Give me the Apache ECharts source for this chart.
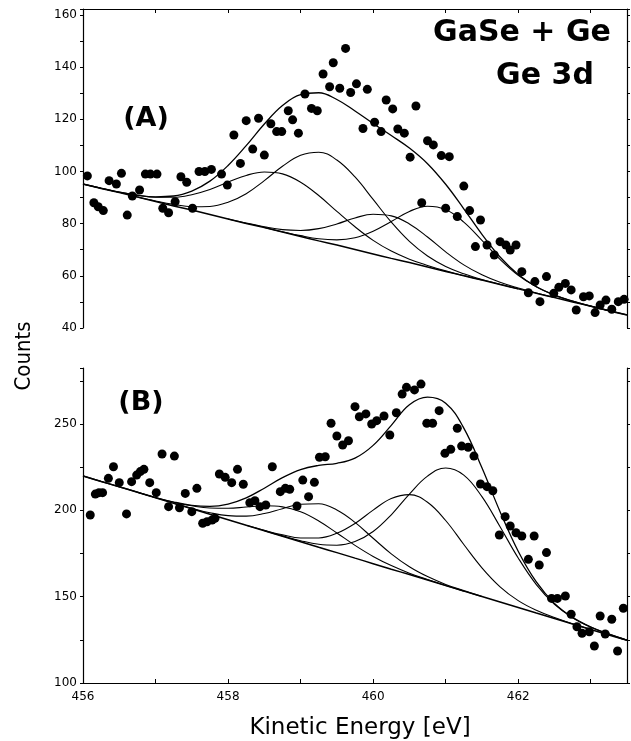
<!DOCTYPE html>
<html><head><meta charset="utf-8">
<script src="https://cdn.jsdelivr.net/npm/echarts/dist/echarts.min.js"></script>
<style>html,body{margin:0;padding:0;background:#fff}#c{width:631px;height:741px}</style>
</head><body><div id="c"></div><script>
// ---- data ----
const energyGrid = [456.00,456.25,456.50,456.75,457.00,457.25,457.50,457.75,458.00,458.25,458.50,458.75,459.00,459.25,459.50,459.75,460.00,460.25,460.50,460.75,461.00,461.25,461.50,461.75,462.00,462.25,462.50,462.75,463.00,463.25,463.50];

// Panel A (fit curves)
const bgA  = [95.2,93.5,91.9,90.2,88.5,86.8,85.2,83.5,81.8,80.1,78.5,76.8,75.1,73.4,71.8,70.1,68.4,66.7,65.1,63.4,61.7,60.0,58.4,56.7,55.0,53.3,51.7,50.0,48.3,46.6,45.0];
const fitA1 = [95.2,93.6,92.1,90.9,90.1,90.1,91.1,93.1,95.9,98.5,99.8,99.1,95.9,90.8,84.7,78.8,73.6,69.5,66.4,64.0,61.9,60.1,58.4,null,null,null,null,null,null,null,null];
const fitA2 = [null,null,null,90.2,88.7,87.4,86.5,86.6,88.2,91.5,96.5,102.0,106.2,107.4,104.4,97.9,89.3,80.6,73.2,67.6,63.6,60.8,58.6,56.8,55.0,null,null,null,null,null,null];
const fitA3 = [null,null,null,null,null,null,null,null,81.8,80.2,78.8,77.7,77.4,78.1,79.9,82.2,83.6,83.0,79.9,74.9,69.2,64.2,60.4,57.5,55.3,53.4,51.7,null,null,null,null];
const fitA4 = [null,null,null,null,null,null,null,null,null,null,78.5,76.9,75.4,74.2,73.8,74.6,77.1,80.8,84.7,86.7,85.4,80.6,73.6,66.3,60.2,55.8,52.6,50.3,48.4,46.6,null];
const envA = [95.2,93.6,92.1,90.9,90.3,90.6,92.5,96.3,102.3,109.9,118.2,125.3,129.5,130.2,127.6,123.2,118.4,113.8,109.0,103.0,95.1,85.7,75.9,67.2,60.5,55.8,52.6,50.3,48.4,46.7,45.0];

// Panel A (measured points)
const ptsA_E = [456.06,456.15,456.21,456.28,456.36,456.46,456.53,456.61,456.68,456.78,456.86,456.93,457.02,457.10,457.18,457.27,457.35,457.43,457.51,457.60,457.68,457.77,457.91,457.99,458.08,458.17,458.25,458.34,458.42,458.50,458.59,458.67,458.74,458.83,458.89,458.97,459.06,459.15,459.23,459.31,459.40,459.45,459.54,459.62,459.69,459.77,459.86,459.92,460.02,460.11,460.18,460.27,460.34,460.43,460.51,460.59,460.67,460.75,460.83,460.94,461.00,461.05,461.16,461.25,461.33,461.41,461.48,461.57,461.67,461.75,461.83,461.89,461.97,462.05,462.14,462.23,462.30,462.39,462.49,462.56,462.65,462.73,462.80,462.90,462.98,463.06,463.13,463.21,463.29,463.38,463.46];
const ptsA_V = [98.3,88.0,86.5,85.0,96.5,95.2,99.3,83.3,90.6,92.9,99.0,99.0,99.0,85.9,84.2,88.4,98.0,95.9,85.9,100.0,100.0,100.8,99.0,94.8,114.0,103.1,119.5,108.6,120.4,106.3,118.3,115.3,115.3,123.3,119.8,114.7,129.7,124.2,123.3,137.4,132.5,141.7,131.9,147.2,130.3,133.6,116.5,131.5,118.9,115.3,127.4,124.0,116.3,114.7,105.5,125.1,88.0,111.8,110.2,106.1,85.9,105.7,82.7,94.4,85.0,71.2,81.4,71.8,68.0,73.1,71.8,69.9,71.8,61.6,53.5,57.8,50.1,59.7,53.3,55.6,57.1,54.6,46.9,52.0,52.3,45.9,48.8,50.7,47.2,50.1,51.0];

// Panel B (fit curves)
const bgB  = [219.9,216.7,213.6,210.4,207.2,204.0,200.9,197.7,194.5,191.3,188.2,185.0,181.8,178.6,175.5,172.3,169.1,165.9,162.8,159.6,156.4,153.2,150.1,146.9,143.7,140.5,137.4,134.2,131.0,127.8,124.7];
const fitB0 = [null,null,null,210.5,207.4,204.7,202.6,201.3,201.2,201.9,202.6,202.0,199.1,193.8,186.9,179.7,173.3,168.0,163.6,159.9,156.5,153.2,null,null,null,null,null,null,null,null,null];
const fitB1 = [null,null,null,null,null,204.1,201.2,198.6,196.9,196.6,198.1,200.9,203.5,203.8,200.2,193.0,183.8,174.8,167.3,161.6,157.1,153.5,150.1,null,null,null,null,null,null,null,null];
const fitB2 = [null,null,null,null,null,null,null,null,null,191.3,188.4,185.8,184.0,184.0,186.7,192.4,200.1,206.8,209.1,204.7,194.1,180.2,166.7,155.7,147.7,142.1,137.9,134.3,131.0,null,null];
const fitB3 = [null,null,null,null,null,null,null,null,null,null,188.2,185.2,182.4,180.3,179.8,181.9,187.7,197.4,209.4,219.8,224.5,220.4,207.9,190.5,172.4,157.0,145.6,137.8,132.4,128.3,124.8];
const envB = [219.9,216.7,213.6,210.5,207.4,204.8,202.9,202.3,203.6,207.2,212.8,218.9,223.6,226.0,227.2,230.2,237.6,249.2,261.1,265.5,262.0,247.6,224.6,199.2,176.3,158.5,146.1,138.0,132.4,128.3,124.8];

// Panel B (measured points)
const ptsB_E = [456.10,456.17,456.22,456.27,456.35,456.42,456.50,456.60,456.67,456.74,456.79,456.84,456.92,457.01,457.09,457.18,457.26,457.33,457.41,457.50,457.57,457.65,457.71,457.78,457.82,457.88,457.96,458.05,458.13,458.21,458.30,458.37,458.44,458.52,458.61,458.72,458.79,458.85,458.95,459.03,459.11,459.19,459.26,459.34,459.42,459.50,459.58,459.66,459.75,459.81,459.90,459.98,460.05,460.15,460.23,460.32,460.40,460.46,460.57,460.66,460.74,460.82,460.91,460.99,461.07,461.16,461.22,461.31,461.39,461.48,461.57,461.65,461.74,461.82,461.89,461.97,462.05,462.14,462.22,462.29,462.39,462.46,462.54,462.65,462.73,462.81,462.88,462.98,463.05,463.13,463.20,463.29,463.37,463.45];
const ptsB_V = [197.3,209.4,210.2,210.2,218.5,225.2,216.0,197.9,216.6,220.4,222.4,223.7,216.0,210.2,232.6,202.1,231.4,201.5,209.8,199.2,212.7,192.5,193.4,194.4,195.4,221.0,219.1,216.0,223.7,215.1,204.4,205.6,202.1,203.1,225.2,210.8,212.7,212.2,202.5,217.5,207.9,216.2,230.7,231.0,250.4,243.0,237.8,240.3,260.0,254.2,255.8,250.0,251.9,254.6,243.6,256.5,267.3,271.2,269.7,273.1,250.4,250.4,257.7,233.0,235.3,247.5,237.2,236.5,231.4,215.2,213.7,211.3,185.7,196.3,190.9,187.0,185.1,171.6,185.1,168.3,175.5,149.0,149.0,150.4,139.8,132.6,128.8,129.7,121.4,138.8,128.4,136.9,118.5,143.3];

// tick / range settings
const xRange = [456, 463.5];
const yRangeA = [40, 162.3];
const yRangeB = [100, 282.4];

// ---- chart ----
function pairs(xs, ys) { const out = []; for (let i = 0; i < xs.length; i++) { if (ys[i] != null) out.push([xs[i], ys[i]]); } return out; }
const FONT = '"DejaVu Sans", sans-serif';
const axLine = { show: true, lineStyle: { color: '#000', width: 1.2 } };
const tickStyle = { color: '#000', width: 1 };

function lineSeries(xi, yi, vals, w) {
  return { type: 'line', xAxisIndex: xi, yAxisIndex: yi, data: pairs(energyGrid, vals), showSymbol: false, symbol: 'none', smooth: 0.4,
           lineStyle: { color: '#000', width: w, opacity: 1 }, z: 2, silent: true };
}
function scatterSeries(xi, yi, xs, ys) {
  return { type: 'scatter', xAxisIndex: xi, yAxisIndex: yi, data: pairs(xs, ys), symbol: 'circle', symbolSize: 9,
           itemStyle: { color: '#000', opacity: 1 }, z: 3, silent: true };
}

const chart = echarts.init(document.getElementById('c'), null, { renderer: 'canvas' });
chart.setOption({
  animation: false,
  backgroundColor: '#fff',
  grid: [
    { left: 83, top: 9, width: 544, height: 319 },
    { left: 83, top: 368, width: 544, height: 315 }
  ],
  xAxis: [
    { gridIndex: 0, type: 'value', min: xRange[0], max: xRange[1], show: false },
    { gridIndex: 0, type: 'value', min: xRange[0], max: xRange[1], interval: 1, position: 'top',
      axisLine: axLine, axisTick: { show: true, inside: true, length: 4, lineStyle: tickStyle },
      axisLabel: { show: false }, splitLine: { show: false } },
    { gridIndex: 1, type: 'value', min: xRange[0], max: xRange[1], interval: 1, position: 'bottom',
      axisLine: axLine, axisTick: { show: true, inside: true, length: 4, lineStyle: tickStyle },
      axisLabel: { formatter: v => (v % 2 === 0 ? String(v) : ''), color: '#000', fontFamily: FONT, fontSize: 12, margin: 8 },
      splitLine: { show: false } }
  ],
  yAxis: [
    { gridIndex: 0, type: 'value', min: yRangeA[0], max: yRangeA[1], interval: 10, position: 'left',
      axisLine: axLine, axisTick: { show: true, inside: false, length: 3, lineStyle: tickStyle },
      axisLabel: { formatter: v => (v % 20 === 0 ? String(v) : ''), color: '#000', fontFamily: FONT, fontSize: 12, margin: 6 },
      splitLine: { show: false } },
    { gridIndex: 0, type: 'value', min: yRangeA[0], max: yRangeA[1], interval: 10, position: 'right',
      axisLine: axLine, axisTick: { show: true, inside: false, length: 3, lineStyle: tickStyle },
      axisLabel: { show: false }, splitLine: { show: false } },
    { gridIndex: 1, type: 'value', min: yRangeB[0], max: yRangeB[1], interval: 25, position: 'left',
      axisLine: axLine, axisTick: { show: true, inside: false, length: 3, lineStyle: tickStyle },
      axisLabel: { formatter: v => (v % 50 === 0 ? String(v) : ''), color: '#000', fontFamily: FONT, fontSize: 12, margin: 6 },
      splitLine: { show: false } },
    { gridIndex: 1, type: 'value', min: yRangeB[0], max: yRangeB[1], interval: 25, position: 'right',
      axisLine: axLine, axisTick: { show: true, inside: false, length: 3, lineStyle: tickStyle },
      axisLabel: { show: false }, splitLine: { show: false } }
  ],
  series: [
    lineSeries(0, 0, bgA, 1.5),
    lineSeries(0, 0, fitA1, 1.1),
    lineSeries(0, 0, fitA2, 1.1),
    lineSeries(0, 0, fitA3, 1.1),
    lineSeries(0, 0, fitA4, 1.1),
    lineSeries(0, 0, envA, 1.3),
    scatterSeries(0, 0, ptsA_E, ptsA_V),
    lineSeries(2, 2, bgB, 1.5),
    lineSeries(2, 2, fitB0, 1.1),
    lineSeries(2, 2, fitB1, 1.1),
    lineSeries(2, 2, fitB2, 1.1),
    lineSeries(2, 2, fitB3, 1.1),
    lineSeries(2, 2, envB, 1.3),
    scatterSeries(2, 2, ptsB_E, ptsB_V)
  ],
  graphic: [
    { type: 'text', x: 522, y: 33, z: 10, style: { text: 'GaSe + Ge', font: 'bold 30px "DejaVu Sans", sans-serif', fill: '#000', textAlign: 'center', textVerticalAlign: 'middle', align: 'center', verticalAlign: 'middle' } },
    { type: 'text', x: 545, y: 76, z: 10, style: { text: 'Ge 3d', font: 'bold 30px "DejaVu Sans", sans-serif', fill: '#000', textAlign: 'center', textVerticalAlign: 'middle', align: 'center', verticalAlign: 'middle' } },
    { type: 'text', x: 146, y: 119, z: 10, style: { text: '(A)', font: 'bold 27px "DejaVu Sans", sans-serif', fill: '#000', textAlign: 'center', textVerticalAlign: 'middle', align: 'center', verticalAlign: 'middle' } },
    { type: 'text', x: 141, y: 403, z: 10, style: { text: '(B)', font: 'bold 27px "DejaVu Sans", sans-serif', fill: '#000', textAlign: 'center', textVerticalAlign: 'middle', align: 'center', verticalAlign: 'middle' } },
    { type: 'text', x: 24, y: 356, rotation: Math.PI / 2, z: 10, style: { text: 'Counts', font: '22px "DejaVu Sans Condensed", "DejaVu Sans", sans-serif', fill: '#000', textAlign: 'center', textVerticalAlign: 'middle', align: 'center', verticalAlign: 'middle' } },
    { type: 'text', x: 360, y: 728, z: 10, style: { text: 'Kinetic Energy [eV]', font: '23px "DejaVu Sans", sans-serif', fill: '#000', textAlign: 'center', textVerticalAlign: 'middle', align: 'center', verticalAlign: 'middle' } }
  ]
});
</script></body></html>
